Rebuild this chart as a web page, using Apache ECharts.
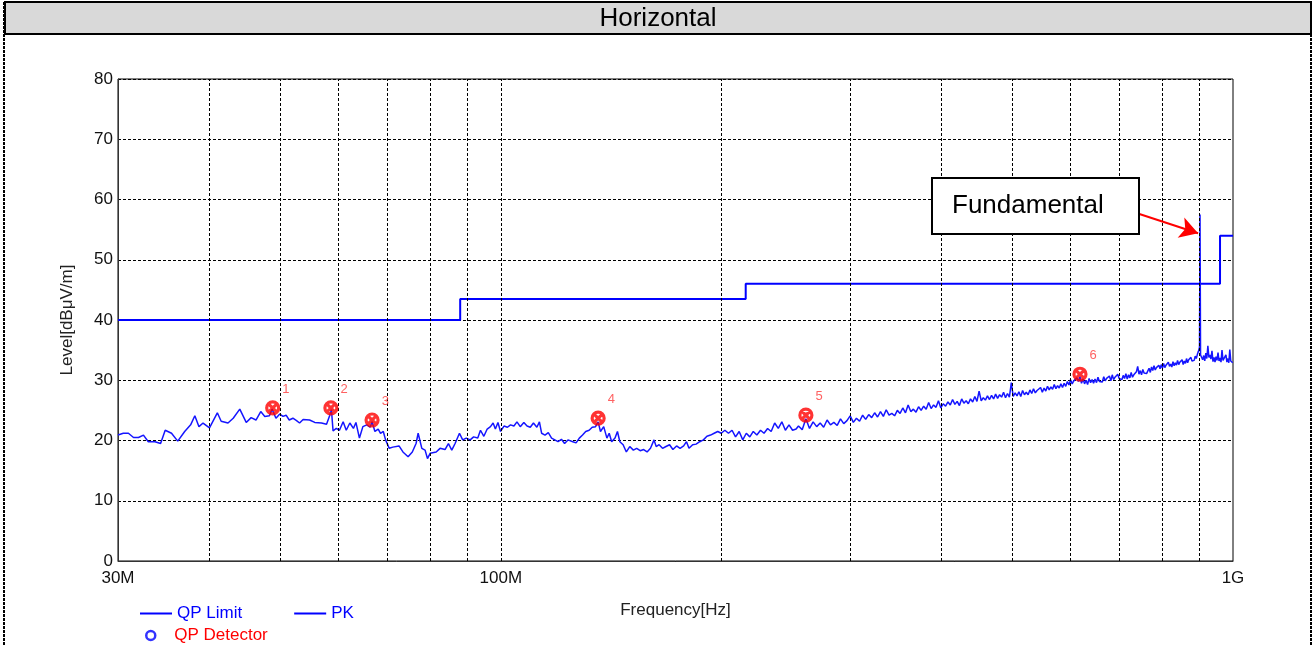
<!DOCTYPE html>
<html>
<head>
<meta charset="utf-8">
<title>Horizontal</title>
<script src="https://cdn.jsdelivr.net/npm/echarts@6/dist/echarts.min.js"></script>
<style>
  html, body { margin: 0; padding: 0; background: #fff; }
  #chart { width: 1316px; height: 646px; }
</style>
</head>
<body>
<div id="chart"></div>
<script>
// ---- data (MHz / dBuV/m) ----
const yTicks = [0, 10, 20, 30, 40, 50, 60, 70, 80];
const xLabels = { 30: '30M', 100: '100M', 1000: '1G' };
const gridFreq = [40, 50, 60, 70, 80, 90, 100, 200, 300, 400, 500, 600, 700, 800, 900];

// QP limit (step)
const limitFreq = [30, 88, 88, 216, 216, 960, 960, 1000];
const limitLevel = [40, 40, 43.5, 43.5, 46, 46, 54, 54];

// PK trace, low part
const pkLowFreq = [30.0, 30.5, 31.0, 31.5, 32.0, 32.5, 33.0, 33.7, 34.3, 34.8, 35.5, 36.2, 37.0, 37.7, 38.2, 38.7, 39.2, 40.0, 41.0, 41.5,
  42.4, 43.1, 44.0, 44.9, 45.6, 46.3, 47.0, 47.6, 48.3, 48.7, 49.3, 49.9, 50.4, 50.9, 51.4, 52.0, 52.6, 53.1, 53.7, 54.8,
  55.7, 56.9, 57.8, 58.4, 58.7, 59.0, 59.6, 60.2, 60.9, 61.5, 62.2, 62.9, 63.4, 64.1, 64.8, 65.6, 66.3, 66.7, 67.3, 68.0,
  68.5, 69.1, 69.6, 70.4, 71.2, 72.6, 73.5, 74.7, 75.7, 76.6, 77.1, 78.0, 78.8, 79.4, 80.1, 80.5, 81.6, 82.6, 83.9, 84.8,
  85.7, 86.6, 87.8, 88.7, 89.7, 90.8, 91.8, 93.0, 93.8, 94.8, 95.8, 96.8, 97.6, 98.3, 99.1, 99.9, 101.0, 102.1, 103.1, 104.2,
  105.2, 106.3, 107.5, 108.6, 109.7, 110.8, 112.0, 112.9, 113.7, 114.9, 116.1, 117.3, 118.5, 119.7, 121.0, 122.2, 123.5, 124.1, 125.4, 126.7,
  128.0, 129.3, 130.6, 132.0, 133.3, 134.7, 135.8, 136.8, 138.2, 139.6, 140.6, 141.7, 143.2, 144.3, 145.4, 146.9, 148.4, 150.0, 151.7, 153.3,
  155.0, 156.7, 158.4, 160.1, 161.9, 163.0, 164.5, 166.3, 168.1, 170.0, 171.8, 173.8, 175.7, 177.7, 179.3, 180.7, 182.8, 184.8, 186.9, 189.1,
  191.2, 193.4, 195.6, 197.8, 200.0, 202.3, 204.6, 206.9, 209.2, 211.6, 214.0, 216.4, 218.8, 221.2, 223.7, 226.3, 228.8, 231.4, 234.0, 236.6,
  239.3, 242.0, 244.7, 247.5, 250.3, 253.1];
const pkLowLevel = [20.9, 21.2, 21.2, 20.5, 20.5, 20.9, 19.8, 19.8, 19.5, 21.7, 21.2, 19.9, 21.5, 22.6, 24.1, 22.3, 22.9, 22.1, 24.6, 23.2,
  22.9, 23.7, 25.2, 23.0, 23.8, 23.4, 24.8, 24.0, 24.1, 25.2, 23.7, 24.4, 24.0, 24.2, 23.4, 23.7, 23.3, 22.9, 23.5, 23.4,
  23.0, 22.9, 22.7, 24.2, 25.1, 21.6, 22.0, 21.7, 23.1, 21.7, 22.9, 22.0, 23.0, 20.4, 22.3, 22.6, 22.2, 23.1, 21.5, 21.9,
  21.2, 21.5, 20.1, 18.7, 18.9, 19.1, 18.1, 17.3, 18.1, 19.5, 21.2, 18.7, 18.4, 17.0, 17.9, 18.1, 18.1, 18.7, 18.5, 19.5,
  18.4, 19.5, 21.2, 20.1, 20.4, 20.1, 20.6, 20.4, 21.7, 20.7, 21.9, 22.3, 22.9, 21.9, 23.0, 21.5, 22.4, 22.2, 22.6, 22.4,
  23.1, 22.3, 23.0, 22.4, 22.2, 22.9, 22.2, 23.1, 21.2, 20.9, 21.3, 20.4, 20.1, 19.8, 20.2, 19.5, 20.1, 20.1, 19.8, 19.6,
  20.4, 20.9, 21.5, 21.7, 22.2, 22.3, 23.1, 21.5, 22.3, 20.4, 21.2, 19.8, 20.4, 21.5, 19.8, 19.3, 18.1, 19.0, 18.4, 18.7,
  18.3, 18.5, 18.1, 18.7, 20.1, 19.0, 19.3, 18.7, 19.0, 19.3, 18.5, 19.1, 18.7, 19.1, 19.8, 18.7, 19.3, 19.4, 19.8, 20.1,
  20.7, 20.9, 21.2, 21.5, 21.2, 21.7, 21.2, 21.7, 20.6, 21.5, 20.1, 21.2, 20.6, 21.5, 20.9, 21.7, 21.2, 22.0, 21.5, 22.9,
  22.0, 23.1, 21.7, 22.6, 21.7, 21.9];

// PK trace, dense upper part (incl. fundamental at ~901.5 MHz)
const pkHighFreq = [255, 258, 261, 264, 267, 270, 273, 276, 279, 282,
  285, 288, 291, 294, 297, 300, 303, 306, 309, 312,
  315, 318, 321, 324, 327, 330, 333, 336, 339, 342,
  345, 348, 351, 354, 357, 360, 363, 366, 369, 372,
  375, 378, 381, 384, 387, 390, 393, 396, 399, 402,
  405, 408, 411, 414, 417, 420, 423, 426, 429, 432,
  435, 438, 441, 444, 447, 450, 453, 456, 459, 462,
  465, 468, 471, 474, 477, 480, 483, 486, 489, 492,
  495, 498, 501, 504, 507, 510, 513, 516, 519, 522,
  525, 528, 531, 534, 537, 540, 543, 546, 549, 552,
  555, 558, 561, 564, 567, 570, 573, 576, 579, 582,
  585, 588, 591, 594, 597, 600, 603, 606, 609, 612,
  615, 618, 621, 624, 627, 630, 633, 636, 639, 642,
  645, 648, 651, 654, 657, 660, 663, 666, 669, 672,
  675, 678, 681, 684, 687, 690, 693, 696, 699, 702,
  705, 708, 711, 714, 717, 720, 723, 726, 729, 732,
  735, 738, 741, 744, 747, 750, 753, 756, 759, 762,
  765, 768, 771, 774, 777, 780, 783, 786, 789, 792,
  795, 798, 801, 804, 807, 810, 813, 816, 819, 822,
  825, 828, 831, 834, 837, 840, 843, 846, 849, 852,
  855, 858, 861, 864, 867, 870, 873, 876, 879, 882,
  885, 888, 891, 894, 897, 900, 901.5, 903, 906, 909, 912,
  915, 918, 921, 924, 927, 930, 933, 936, 939, 942,
  945, 948, 951, 954, 957, 960, 963, 966, 969, 972,
  975, 978, 981, 984, 987, 990, 993, 996, 999];
const pkHighLevel = [22.4, 21.8, 23.6, 22.0, 23.1, 22.3, 22.9, 22.2, 23.4, 22.6,
  23.0, 22.5, 23.6, 22.8, 23.3, 24.1, 23.0, 23.7, 23.2, 24.2,
  23.5, 24.3, 23.8, 24.6, 23.9, 24.8, 24.0, 25.1, 24.2, 24.5,
  24.1, 25.0, 24.5, 25.4, 24.6, 25.9, 24.8, 25.2, 24.7, 25.6,
  25.0, 25.7, 25.2, 26.3, 25.3, 25.9, 25.5, 26.6, 25.4, 26.1,
  25.7, 26.4, 25.9, 26.8, 26.0, 26.5, 25.8, 26.9, 26.2, 26.6,
  26.1, 26.9, 26.4, 27.3, 26.5, 28.2, 26.6, 27.1, 26.7, 27.4,
  26.8, 27.5, 26.9, 27.7, 27.0, 27.6, 27.2, 28.0, 27.1, 27.8,
  27.2, 29.6, 27.3, 27.9, 27.4, 28.1, 27.3, 28.3, 27.6, 28.0,
  27.6, 28.4, 27.8, 28.6, 27.9, 28.3, 28.1, 28.8, 28.0, 28.7,
  28.2, 29.0, 28.4, 28.9, 28.5, 29.3, 28.6, 29.1, 28.7, 29.4,
  28.8, 29.5, 29.0, 29.8, 29.2, 30.1, 29.4, 29.9, 29.6, 30.4,
  29.8, 30.6, 29.5, 30.2, 29.4, 30.0, 29.3, 30.3, 29.6, 30.1,
  29.5, 30.2, 29.6, 30.5, 29.8, 30.1, 29.7, 30.6, 29.9, 30.3,
  30.0, 30.7, 29.9, 30.9, 30.1, 30.5, 30.2, 31.0, 30.3, 30.6,
  30.1, 30.8, 30.3, 31.1, 30.2, 30.9, 30.4, 31.3, 30.5, 30.9,
  30.6, 31.4, 32.3, 31.0, 31.6, 30.9, 31.8, 31.2, 31.5, 31.1,
  31.4, 32.0, 31.3, 32.2, 31.6, 32.4, 31.7, 32.1, 31.8, 32.5,
  31.9, 32.6, 32.0, 32.8, 32.1, 32.5, 32.2, 33.0, 32.3, 32.7,
  32.2, 33.1, 32.4, 32.9, 32.5, 33.3, 32.6, 33.0, 32.7, 33.4,
  32.6, 33.2, 32.8, 33.6, 32.9, 33.4, 33.1, 33.8, 33.2, 33.5,
  33.3, 34.0, 33.6, 34.3, 34.8, 35.5, 57.5, 34.2, 33.9, 33.4, 34.1,
  33.2, 34.5, 33.6, 35.7, 33.8, 34.2, 33.5, 34.9, 33.1, 33.8,
  33.0, 33.9, 33.3, 34.6, 33.2, 33.7, 33.0, 35.0, 33.3, 33.6,
  33.1, 34.2, 33.0, 33.6, 32.9, 35.1, 33.2, 33.4, 32.9];

// QP detector points
const qpFreq = [48.8, 58.6, 66.7, 135.8, 261, 618];
const qpLevel = [25.4, 25.4, 23.4, 23.7, 24.2, 31.0];
const qpNames = ['1', '2', '3', '4', '5', '6'];

// "Fundamental" arrow (start / end, data coords)
const arrowFrom = [745, 57.6];
const arrowTo = [896, 54.4];

const pkFreq = pkLowFreq.concat(pkHighFreq);
const pkLevel = pkLowLevel.concat(pkHighLevel);

const FONT = '"Liberation Sans", Arial, sans-serif';
const chart = echarts.init(document.getElementById('chart'));

const option = {
  animation: false,
  backgroundColor: '#fff',
  textStyle: { fontFamily: FONT },
  grid: { left: 118, right: 83, top: 79, bottom: 85, show: true, borderColor: '#000', borderWidth: 1 },
  xAxis: {
    type: 'log', logBase: 10, min: 30, max: 1000,
    name: 'Frequency[Hz]', nameLocation: 'middle', nameGap: 41,
    nameTextStyle: { color: '#222', fontSize: 17, fontFamily: FONT },
    axisLine: { lineStyle: { color: '#333', width: 1 } },
    axisTick: { show: false },
    splitLine: { show: false },
    axisLabel: {
      color: '#111', fontSize: 17, fontFamily: FONT, margin: 9,
      formatter: function (v) {
        const k = Math.round(v);
        return xLabels[k] || '';
      }
    }
  },
  yAxis: {
    type: 'value', min: 0, max: 80, interval: 10,
    name: 'Level[dBμV/m]', nameLocation: 'middle', nameGap: 42, nameRotate: 90,
    nameTextStyle: { color: '#222', fontSize: 17, fontFamily: FONT },
    axisLine: { show: true, lineStyle: { color: '#333', width: 1 } },
    axisTick: { show: false },
    axisLabel: { color: '#111', fontSize: 17, fontFamily: FONT, margin: 5 },
    splitLine: { show: true, lineStyle: { color: '#000', width: 1, type: [3, 2] } }
  },
  legend: [
    {
      left: 135, top: 600, itemWidth: 32, itemHeight: 2, itemGap: 52,
      icon: 'rect',
      textStyle: { color: '#0000ff', fontSize: 17, fontFamily: FONT },
      data: ['QP Limit', 'PK']
    },
    {
      left: 140, top: 622, itemWidth: 9, itemHeight: 9,
      textStyle: { color: '#ff0000', fontSize: 17, fontFamily: FONT, padding: [0, 0, 0, 14] },
      data: [{
        name: 'QP Detector', icon: 'circle',
        itemStyle: { color: '#fff', borderColor: '#0000ff', borderWidth: 2.5 }
      }]
    }
  ],
  series: [
    {
      // vertical dashed grid lines of the log axis
      name: 'gridlines', type: 'line', data: [], z: 1, silent: true,
      markLine: {
        silent: true, symbol: 'none', animation: false,
        label: { show: false },
        lineStyle: { color: '#000', width: 1, type: [3, 2] },
        data: gridFreq.map(f => ({ xAxis: f }))
      }
    },
    {
      name: 'QP Limit', type: 'line', z: 3,
      showSymbol: false, symbol: 'none',
      color: '#0000ff',
      lineStyle: { color: '#0000ff', width: 2 },
      data: limitFreq.map((f, i) => [f, limitLevel[i]])
    },
    {
      name: 'PK', type: 'line', z: 4,
      showSymbol: false, symbol: 'none', sampling: 'none',
      color: '#0000ff',
      lineStyle: { color: '#1515ff', width: 1.5 },
      data: pkFreq.map((f, i) => [f, pkLevel[i]])
    },
    {
      name: 'QP Detector', type: 'scatter', z: 6,
      symbol: 'path://M0,6a6,6 0 1,0 12,0a6,6 0 1,0 -12,0ZM2.8,2.8L9.2,9.2M9.2,2.8L2.8,9.2',
      symbolSize: 12,
      itemStyle: { color: 'rgba(255,255,255,0)', borderColor: '#ff0000', borderWidth: 3.2 },
      label: {
        show: true, position: 'right', offset: [-3, -19],
        color: '#ff3a3a', fontSize: 13, fontFamily: FONT,
        formatter: p => qpNames[p.dataIndex]
      },
      data: qpFreq.map((f, i) => [f, qpLevel[i]])
    },
    {
      name: 'arrow', type: 'line', data: [], z: 7, silent: true,
      markLine: {
        silent: true, animation: false,
        symbol: ['none', 'arrow'], symbolSize: [16, 18],
        label: { show: false },
        lineStyle: { color: '#ff0000', width: 2, type: 'solid' },
        data: [[{ coord: arrowFrom }, { coord: arrowTo }]]
      }
    }
  ],
  graphic: [
    // title band
    { type: 'rect', z: 100, shape: { x: 5, y: 2, width: 1306, height: 32 },
      style: { fill: '#d9d9d9', stroke: '#000', lineWidth: 2 } },
    { type: 'text', z: 101, x: 658, y: 19,
      style: { text: 'Horizontal', fill: '#000', font: '26px ' + FONT, align: 'center', verticalAlign: 'middle' } },
    // outer dashed frame
    { type: 'line', z: 100, shape: { x1: 4, y1: 2, x2: 4, y2: 646 },
      style: { stroke: '#000', lineWidth: 2, lineDash: [3, 1] } },
    { type: 'line', z: 100, shape: { x1: 1311, y1: 2, x2: 1311, y2: 646 },
      style: { stroke: '#000', lineWidth: 2, lineDash: [3, 1] } },
    // annotation box
    { type: 'rect', z: 100, shape: { x: 932, y: 178, width: 207, height: 56 },
      style: { fill: '#fff', stroke: '#000', lineWidth: 2 } },
    { type: 'text', z: 101, x: 952, y: 206,
      style: { text: 'Fundamental', fill: '#000', font: '26px ' + FONT, verticalAlign: 'middle' } }
  ]
};

chart.setOption(option);
</script>
</body>
</html>
